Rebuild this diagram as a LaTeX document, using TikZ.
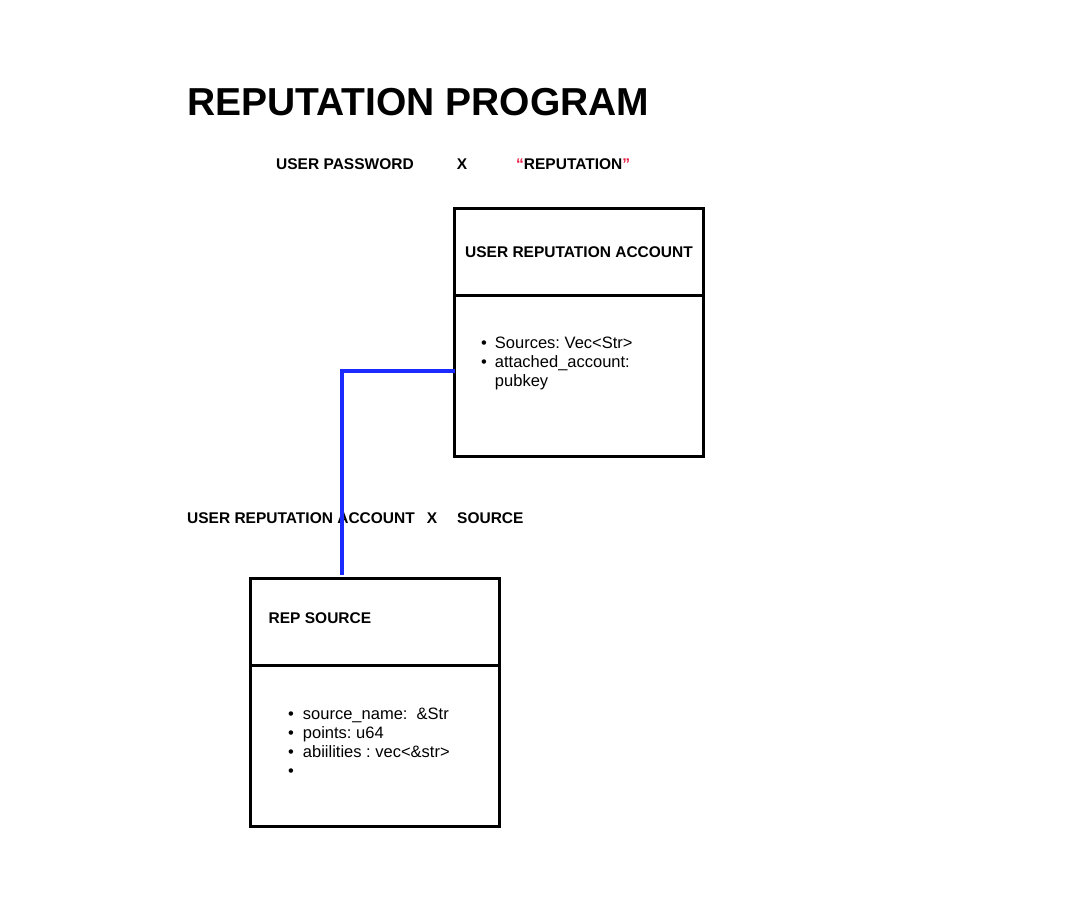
\documentclass[tikz,border=0pt]{standalone}
\usepackage{fontspec}
\setmainfont{Liberation Sans}
\usetikzlibrary{positioning}
\usepackage{xcolor}
\definecolor{linkblue}{HTML}{1B2BFF}
\definecolor{quotered}{HTML}{E8173F}
\frenchspacing

\begin{document}
\begin{tikzpicture}[
  x=1pt, y=-1pt,
  font=\fontsize{15.5}{19}\selectfont\bfseries,
  hd/.style={draw, line width=3.2pt, outer sep=0pt, minimum width=249pt, minimum height=87pt, inner sep=0pt},
  bd/.style={hd, minimum height=161pt},
  lbl/.style={anchor=base west, inner sep=0pt},
  items/.style={anchor=base west, inner sep=0pt, font=\fontsize{16.5}{19}\selectfont},
  link/.style={draw=linkblue, line width=3.2pt}
]
\useasboundingbox (0,0) rectangle (1080,907);

% title and seed labels
\node[lbl, font=\fontsize{39}{44}\selectfont\bfseries] (title) at (187,115) {REPUTATION PROGRAM};
\node[lbl] (pwd) at (276,169) {USER PASSWORD};
\node[lbl, anchor=base] (x1) at (462,169) {X};
\node[lbl] (seed) at (516,169) {\textcolor{quotered}{“}REPUTATION\textcolor{quotered}{”}};

% user reputation account
\node[hd] (uraHead) at (579,252) {USER REPUTATION ACCOUNT};
\node[bd, below=0pt of uraHead] (uraBody) {};
\node[items] (uraList) at (481,348) {%
  \begin{tabular}[t]{@{}l@{\hspace{8pt}}l@{}}
  \textbullet & Sources: Vec<Str>\\
  \textbullet & attached\_account:\\
  & pubkey
  \end{tabular}};

% second seed labels
\node[lbl] (ura2) at (187,523) {USER REPUTATION ACCOUNT};
\node[lbl, anchor=base] (x2) at (432,523) {X};
\node[lbl] (src) at (457,523) {SOURCE};

% rep source
\node[hd] (rsHead) at (375,622) {};
\node[lbl, anchor=west] (rsTitle) at ([xshift=18pt,yshift=4pt]rsHead.west) {REP SOURCE};
\node[bd, below=0pt of rsHead] (rsBody) {};
\node[items] (rsList) at (288,719) {%
  \begin{tabular}[t]{@{}l@{\hspace{9pt}}l@{}}
  \textbullet & source\_name:\ \ \&Str\\
  \textbullet & points: u64\\
  \textbullet & abiilities : vec<\&str>\\
  \textbullet &
  \end{tabular}};

\draw[link] ([yshift=5pt]uraBody.west) -| ([xshift=-33pt,yshift=4pt]rsHead.north);

\end{tikzpicture}
\end{document}
